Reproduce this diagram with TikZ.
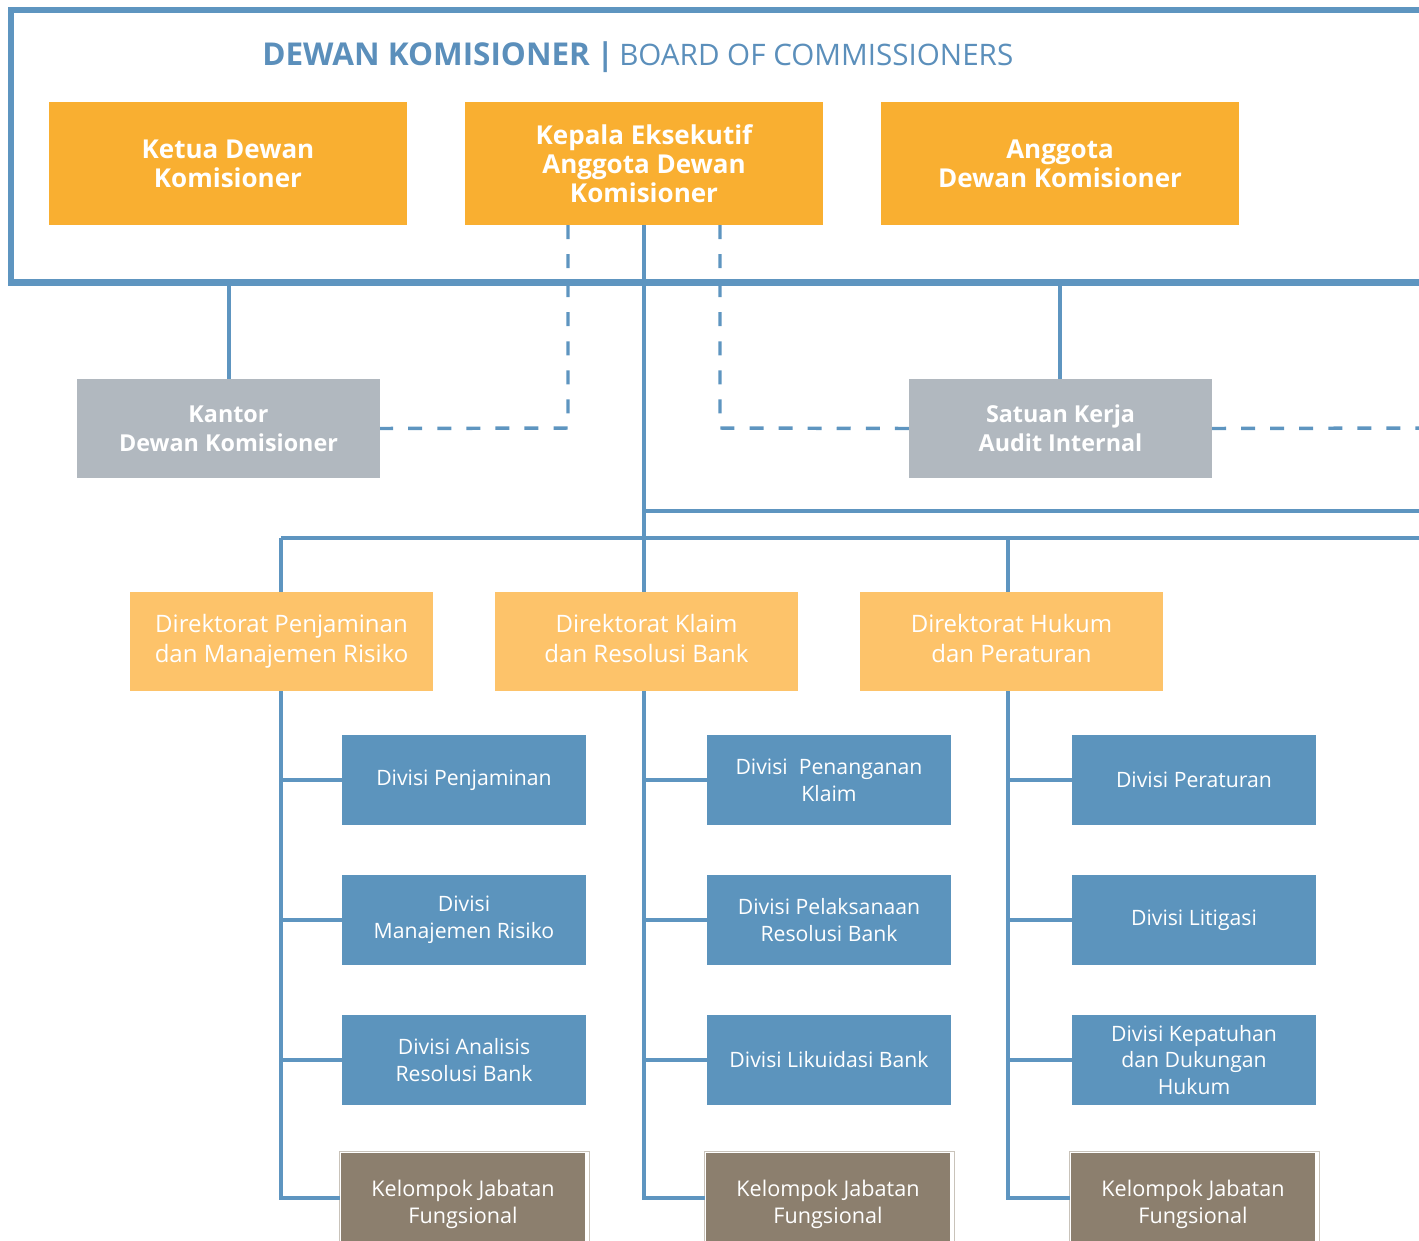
\documentclass[tikz,border=0pt]{standalone}
\usepackage{fontspec}
\setmainfont{Open Sans}
\definecolor{lineblue}{HTML}{5E95C0}
\definecolor{titleblue}{HTML}{5B8FBB}
\definecolor{orgdark}{HTML}{F9AF31}
\definecolor{orglight}{HTML}{FDC36A}
\definecolor{unitgray}{HTML}{B1B8BF}
\definecolor{divblue}{HTML}{5C94BD}
\definecolor{kjfbrown}{HTML}{8C7F6E}
\definecolor{kjfedge}{HTML}{C9C3BA}
\begin{document}
\begin{tikzpicture}[x=0.75pt,y=-0.75pt,
  box/.style={anchor=north west,inner sep=0pt,outer sep=0pt,align=center,text=white},
  board/.style={box,fill=orgdark,minimum width=358*0.75pt,minimum height=123*0.75pt,
    font=\fontsize{19.5pt}{21.8pt}\selectfont\bfseries},
  unit/.style={box,fill=unitgray,minimum width=303*0.75pt,minimum height=99*0.75pt,
    font=\fontsize{17.5pt}{21.8pt}\selectfont\bfseries},
  directorate/.style={box,fill=orglight,minimum width=303*0.75pt,minimum height=99*0.75pt,
    font=\fontsize{18pt}{22.5pt}\selectfont},
  division/.style={box,fill=divblue,minimum width=244*0.75pt,minimum height=90*0.75pt,
    font=\fontsize{15.9pt}{20.2pt}\selectfont},
  kjf/.style={box,fill=kjfbrown,draw=white,line width=1.2pt,minimum width=246*0.75pt,minimum height=104*0.75pt,
    font=\fontsize{16.2pt}{20.2pt}\selectfont},
  link/.style={draw=lineblue,line width=2.5pt},
  dotted link/.style={draw=lineblue,line width=2.6pt,dash pattern=on 10.5pt off 11.3pt},
]
\useasboundingbox (0,0) rectangle (1419,1240);
\clip (0,0) rectangle (1419,1240);

% board frame, open on the right
\draw[draw=lineblue,line width=4.6pt] (1430,10) -- (11,10) -- (11,282.5) -- (1430,282.5);

% title
\node[anchor=west,inner sep=0pt,text=titleblue,font=\fontsize{23.6pt}{28pt}\selectfont] (title) at (262,57)
  {\textbf{DEWAN KOMISIONER}\hspace{5pt}\textbf{|}\hspace{4pt}{\fontsize{22.2pt}{28pt}\selectfont BOARD OF COMMISSIONERS}};

% board members
\node[board] (ketua) at (49,102) {Ketua Dewan\\Komisioner};
\node[board] (kepala) at (465,102) {Kepala Eksekutif\\Anggota Dewan\\Komisioner};
\node[board] (anggota) at (881,102) {Anggota\\Dewan Komisioner};

% supporting units
\node[unit] (kantor) at (77,379) {Kantor\\Dewan Komisioner};
\node[unit] (audit) at (909,379) {Satuan Kerja\\Audit Internal};

% directorates
\node[directorate] (dirA) at (130,592) {Direktorat Penjaminan\\dan Manajemen Risiko\vphantom{g}};
\node[directorate] (dirB) at (495,592) {Direktorat Klaim\\dan Resolusi Bank\vphantom{g}};
\node[directorate] (dirC) at (860,592) {Direktorat Hukum\\dan Peraturan\vphantom{g}};

% divisions
\node[division] (a1) at (342,735) {Divisi Penjaminan};
\node[division] (a2) at (342,875) {Divisi\\Manajemen Risiko};
\node[division] (a3) at (342,1015) {Divisi Analisis\\Resolusi Bank};
\node[kjf] (a4) at (340,1152) {Kelompok Jabatan\\Fungsional};

\node[division] (b1) at (707,735) {Divisi\ \ Penanganan\\Klaim};
\node[division] (b2) at (707,875) {Divisi Pelaksanaan\\Resolusi Bank};
\node[division] (b3) at (707,1015) {Divisi Likuidasi Bank};
\node[kjf] (b4) at (705,1152) {Kelompok Jabatan\\Fungsional};

\node[division] (c1) at (1072,735) {Divisi Peraturan};
\node[division] (c2) at (1072,875) {Divisi Litigasi};
\node[division] (c3) at (1072,1015) {Divisi Kepatuhan\\dan Dukungan\\Hukum};
\node[kjf] (c4) at (1070,1152) {Kelompok Jabatan\\Fungsional};
\draw[kjfedge,line width=0.6pt] (339,1151) rectangle (589,1258) (704,1151) rectangle (954,1258) (1069,1151) rectangle (1319,1258);

% helper coordinates
\coordinate (fk) at (229,282.5);
\coordinate (fa) at (1060,282.5);
\coordinate (busA) at (644,511);
\coordinate (busAend) at (1430,511);
\coordinate (busB) at (281,538);
\coordinate (busBend) at (1430,538);
\coordinate (dashL) at (568,225);
\coordinate (dashR) at (720,225);
\coordinate (dashEnd) at (1430,428);
\coordinate (spineA) at (281,1198);
\coordinate (spineB) at (644,1198);
\coordinate (spineC) at (1008,1198);

% solid reporting lines
\path[link] (fk) -- (fk |- kantor.north);
\path[link] (fa) -- (fa |- audit.north);
\path[link] (kepala.south) -- (kepala.south |- dirB.north);
\path[link] (busA) -- (busAend);
\path[link] (busB) -- (busBend);
\path[link] (busB) -- (busB |- dirA.north);
\path[link] (1008,538) -- (1008,592);

% dashed coordination lines
\path[dotted link] (dashL) -- (568,428) -- (kantor.east);
\path[dotted link] (dashR) -- (720,428) -- (audit.west);
\path[dotted link] (audit.east) -- (dashEnd);

% directorate branches
\path[link] (dirA.south -| spineA) -- (spineA) -- (spineA -| a4.west);
\path[link] (a1.west -| spineA) -- (a1.west);
\path[link] (a2.west -| spineA) -- (a2.west);
\path[link] (a3.west -| spineA) -- (a3.west);

\path[link] (dirB.south -| spineB) -- (spineB) -- (spineB -| b4.west);
\path[link] (b1.west -| spineB) -- (b1.west);
\path[link] (b2.west -| spineB) -- (b2.west);
\path[link] (b3.west -| spineB) -- (b3.west);

\path[link] (dirC.south -| spineC) -- (spineC) -- (spineC -| c4.west);
\path[link] (c1.west -| spineC) -- (c1.west);
\path[link] (c2.west -| spineC) -- (c2.west);
\path[link] (c3.west -| spineC) -- (c3.west);
\end{tikzpicture}
\end{document}
